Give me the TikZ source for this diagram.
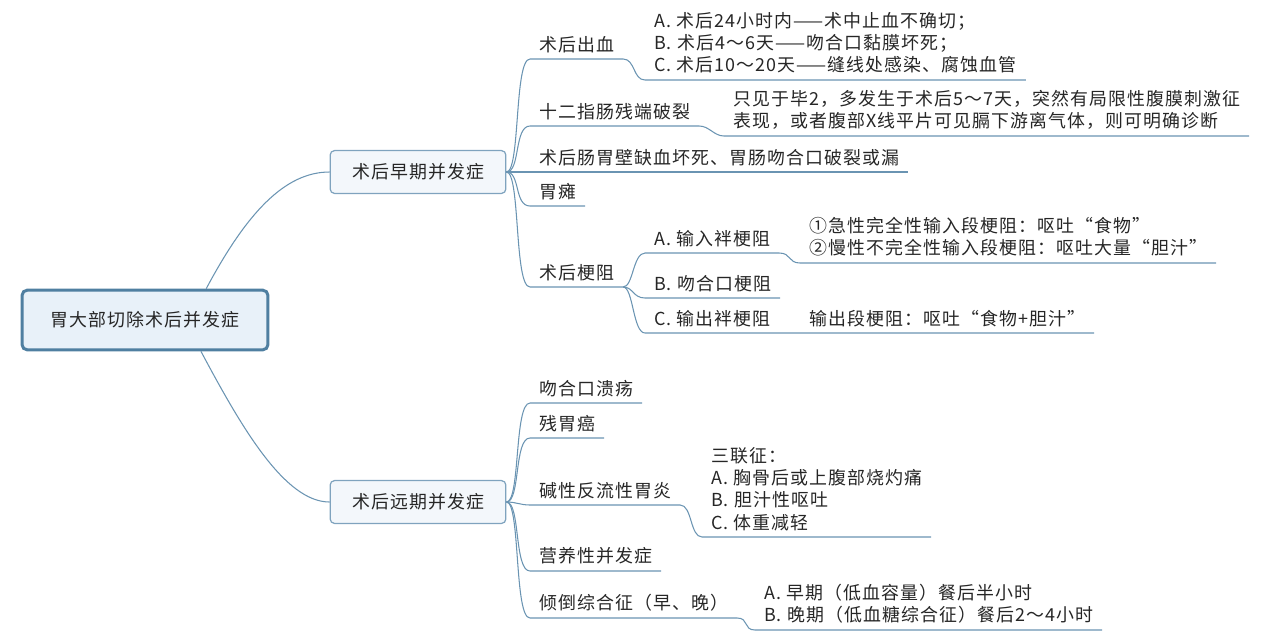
\documentclass[tikz,border=0pt]{standalone}
\usepackage{fontspec}
\setmainfont[LetterSpace=6]{Noto Sans CJK SC}
\usetikzlibrary{positioning}

\definecolor{linkblue}{HTML}{6A94B2}
\definecolor{rootedge}{HTML}{4F7FA1}
\definecolor{rootfill}{HTML}{E8F1F9}
\definecolor{boxedge}{HTML}{7FA3BE}
\definecolor{boxfill}{HTML}{F3F7FB}
\definecolor{ink}{HTML}{262626}

\begin{document}
\begin{tikzpicture}[x=0.02cm, y=-0.02cm,
  every node/.style={font=\fontsize{10.2}{12.6}\selectfont, text=ink},
  rootbox/.style={draw=rootedge, line width=1.7pt, fill=rootfill, rounded corners=3pt, minimum width=140pt, minimum height=34pt},
  topic/.style={draw=boxedge, line width=0.7pt, fill=boxfill, rounded corners=2.5pt, minimum width=100pt, minimum height=24.4pt},
  leaf/.style={anchor=south west, inner xsep=5pt, inner ysep=3.5pt, align=left},
  link/.style={draw=linkblue, line width=0.6pt}]
\useasboundingbox (0,0) rectangle (1270,640);

\node[rootbox] (root) at (145,320) {胃大部切除术后并发症};
\node[topic] (early) at (418,172) {术后早期并发症};
\node[topic] (late) at (418,502) {术后远期并发症};

% early complications
\node[leaf] (bleed) at (530,59) {术后出血};
\node[leaf] (bleedtxt) at (645,80) {A. 术后24小时内——术中止血不确切；\\B. 术后4～6天——吻合口黏膜坏死；\\C. 术后10～20天——缝线处感染、腐蚀血管};
\node[leaf] (duo) at (530,126) {十二指肠残端破裂};
\node[leaf] (duotxt) at (724,136) {只见于毕2，多发生于术后5～7天，突然有局限性腹膜刺激征\\表现，或者腹部X线平片可见膈下游离气体，则可明确诊断};
\node[leaf] (leak) at (530,172) {术后肠胃壁缺血坏死、胃肠吻合口破裂或漏};
\node[leaf] (paresis) at (530,206) {胃瘫};
\node[leaf] (obst) at (530,287) {术后梗阻};
\node[leaf] (obstA) at (645,253) {A. 输入袢梗阻};
\node[leaf] (obstAtxt) at (800,263) {①急性完全性输入段梗阻：呕吐“食物”\\②慢性不完全性输入段梗阻：呕吐大量“胆汁”};
\node[leaf] (obstB) at (645,298) {B. 吻合口梗阻};
\node[leaf] (obstC) at (645,333) {C. 输出袢梗阻};
\node[leaf] (obstCtxt) at (800,333) {输出段梗阻：呕吐“食物+胆汁”};

% late complications
\node[leaf] (ulcer) at (530,403) {吻合口溃疡};
\node[leaf] (cancer) at (530,438) {残胃癌};
\node[leaf] (reflux) at (530,505) {碱性反流性胃炎};
\node[leaf] (refluxtxt) at (702,537) {三联征：\\A. 胸骨后或上腹部烧灼痛\\B. 胆汁性呕吐\\C. 体重减轻};
\node[leaf] (nutri) at (530,571) {营养性并发症};
\node[leaf] (dump) at (530,618) {倾倒综合征（早、晚）};
\node[leaf] (dumptxt) at (755,630) {A. 早期（低血容量）餐后半小时\\B. 晚期（低血糖综合征）餐后2～4小时};

\draw[link] ([xshift=-36pt]root.north east) .. controls +(40,-75) and +(-45,0) .. (early.west);
\draw[link] ([xshift=-39pt]root.south east) .. controls +(40,75) and +(-45,0) .. (late.west);

\draw[link] (early.east) .. controls +(14,0) and +(-16,0) .. (bleed.south west) -- (bleed.south east) .. controls +(12,0) and +(-12,0) .. (bleedtxt.south west) -- (bleedtxt.south east);
\draw[link] (early.east) .. controls +(14,0) and +(-16,0) .. (duo.south west) -- (duo.south east) .. controls +(10,0) and +(-10,0) .. (duotxt.south west) -- (duotxt.south east);
\draw[link] (early.east) -- (leak.south west) -- (leak.south east);
\draw[link] (early.east) .. controls +(14,0) and +(-16,0) .. (paresis.south west) -- (paresis.south east);
\draw[link] (early.east) .. controls +(14,0) and +(-16,0) .. (obst.south west) -- (obst.south east);
\draw[link] (obst.south east) .. controls +(10,0) and +(-12,0) .. (obstA.south west) -- (obstA.south east) .. controls +(12,0) and +(-12,0) .. (obstAtxt.south west) -- (obstAtxt.south east);
\draw[link] (obst.south east) .. controls +(10,0) and +(-12,0) .. (obstB.south west) -- (obstB.south east);
\draw[link] (obst.south east) .. controls +(10,0) and +(-12,0) .. (obstC.south west) -- (obstCtxt.south east);

\draw[link] (late.east) .. controls +(14,0) and +(-16,0) .. (ulcer.south west) -- (ulcer.south east);
\draw[link] (late.east) .. controls +(14,0) and +(-16,0) .. (cancer.south west) -- (cancer.south east);
\draw[link] (late.east) .. controls +(10,0) and +(-10,0) .. (reflux.south west) -- (reflux.south east) .. controls +(12,0) and +(-12,0) .. (refluxtxt.south west) -- (refluxtxt.south east);
\draw[link] (late.east) .. controls +(14,0) and +(-16,0) .. (nutri.south west) -- (nutri.south east);
\draw[link] (late.east) .. controls +(14,0) and +(-16,0) .. (dump.south west) -- (dump.south east) .. controls +(12,0) and +(-12,0) .. (dumptxt.south west) -- (dumptxt.south east);
\end{tikzpicture}
\end{document}
